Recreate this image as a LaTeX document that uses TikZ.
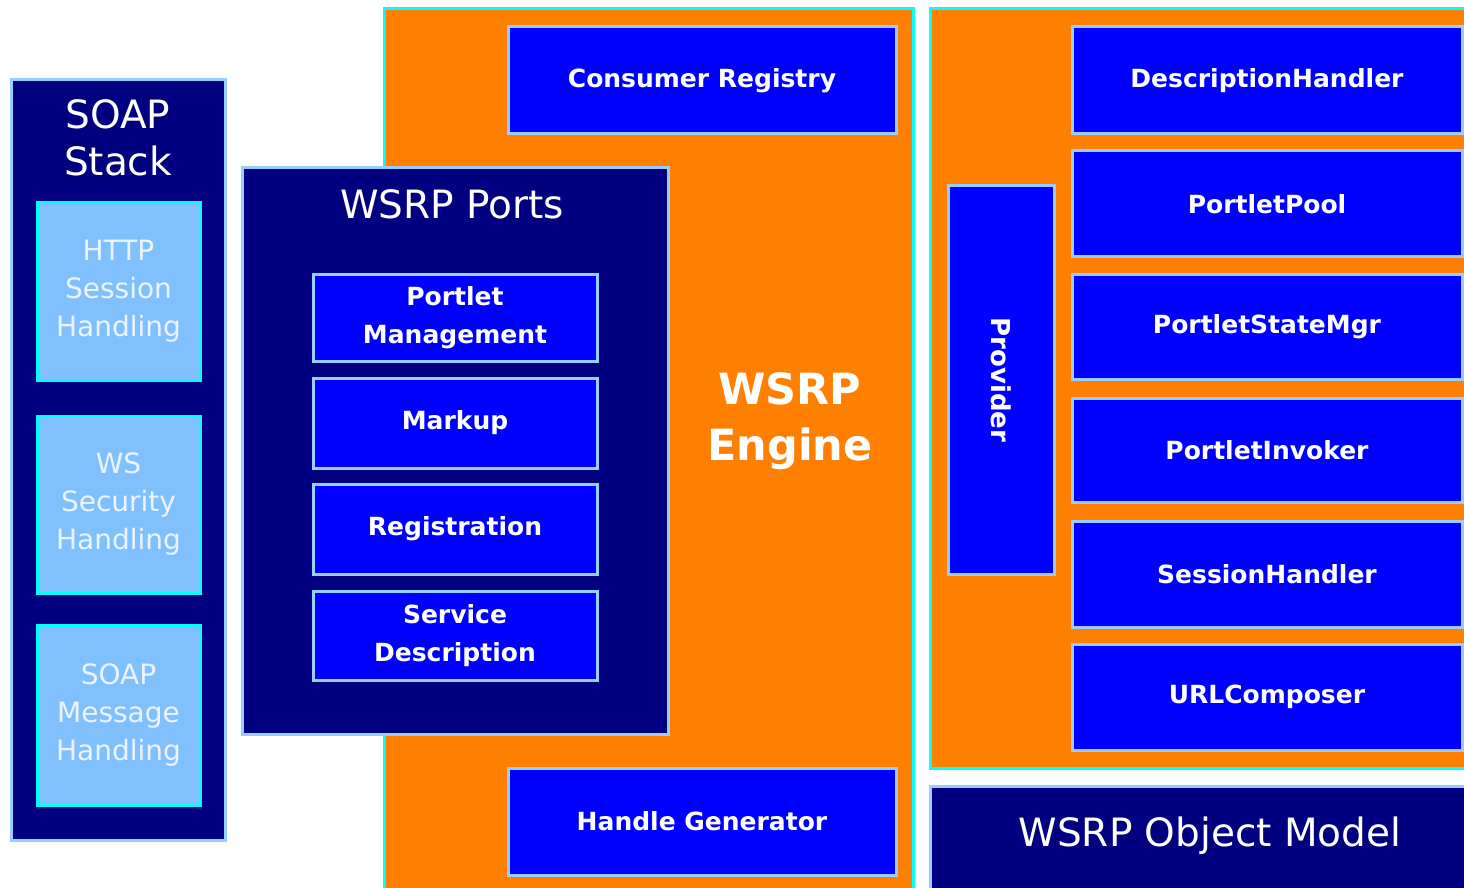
\documentclass[tikz,border=0pt]{standalone}
\usepackage{fontspec}
\setmainfont{DejaVu Sans}
\usetikzlibrary{fit}
\definecolor{engine}{HTML}{FF8000}
\definecolor{rim}{HTML}{00FFFF}
\definecolor{deep}{HTML}{000080}
\definecolor{vivid}{HTML}{0000FF}
\definecolor{edge}{HTML}{99CCFF}
\definecolor{pale}{HTML}{80C0FF}
\definecolor{paletext}{HTML}{EEF4FF}
\tikzset{
  x=0.5pt, y=-0.5pt,
  area/.style={inner sep=0pt, outer sep=0pt, line width=1.5pt},
  orangearea/.style={area, fill=engine, draw=rim},
  deeparea/.style={area, fill=deep, draw=edge},
  bluebox/.style={area, fill=vivid, draw=edge},
  palebox/.style={area, fill=pale, draw=rim},
  bluetext/.style={text=white, align=center, inner sep=0pt,
    font=\fontsize{12.5}{19}\selectfont\bfseries},
  paletxt/.style={text=paletext, align=center, inner sep=0pt,
    font=\fontsize{14}{19}\selectfont},
  title/.style={text=white, align=center, inner sep=0pt,
    font=\fontsize{19.5}{23.5}\selectfont},
}
% box with a centred label: name, corner, corner, style, text
\newcommand\labelledbox[5]{%
  \node[#4, fit={#2#3}] (#1) {};
  \node[#5] (#1-text) at (#1.center)}
\begin{document}
\begin{tikzpicture}
\useasboundingbox (0,0) rectangle (1464,888);
\fill[white] (0,0) rectangle (1464,888);

% SOAP stack column
\node[deeparea, fit={(11,80)(225,840)}] (soap) {};
\node[title] (soaptitle) at (118,138) {SOAP\\Stack};
\labelledbox{http}{(37,203)}{(200,380)}{palebox}{paletxt}{HTTP\\Session\\Handling};
\labelledbox{wssec}{(37,416)}{(200,593)}{palebox}{paletxt}{WS\\Security\\Handling};
\labelledbox{soapmsg}{(37,625)}{(200,805)}{palebox}{paletxt}{SOAP\\Message\\Handling};

% WSRP engine (runs off the bottom edge)
\begin{scope}
\clip (0,0) rectangle (1464,888);
\node[orangearea, fit={(384,9)(913,900)}] (engine) {};
\end{scope}
\node[text=white, align=center, inner sep=0pt,
  font=\fontsize{21.5}{28}\selectfont\bfseries] (enginetitle) at (790,421) {WSRP\\Engine};
\labelledbox{registry}{(508,27)}{(896,134)}{bluebox}{bluetext}{Consumer Registry};
\labelledbox{handle}{(508,768)}{(896,875)}{bluebox}{bluetext}{Handle Generator};

% WSRP ports
\node[deeparea, fit={(242,168)(668,734)}] (ports) {};
\node[title] (portstitle) at (452,204) {WSRP Ports};
\labelledbox{mgmt}{(313,275)}{(597,361)}{bluebox}{bluetext}{Portlet\\Management};
\labelledbox{markup}{(313,378)}{(597,468)}{bluebox}{bluetext}{Markup};
\labelledbox{registration}{(313,484)}{(597,574)}{bluebox}{bluetext}{Registration};
\labelledbox{servdesc}{(313,591)}{(597,680)}{bluebox}{bluetext}{Service\\Description};

% Provider side (runs off the right edge)
\begin{scope}
\clip (0,0) rectangle (1464,888);
\node[orangearea, fit={(930,9)(1480,768)}] (provside) {};
\node[deeparea, fit={(930,786)(1480,900)}] (objmodel) {};
\end{scope}
\node[title] (objtitle) at (1210,836) {WSRP Object Model};
\labelledbox{provider}{(948,186)}{(1054,574)}{bluebox}{bluetext, rotate=-90, font=\fontsize{13}{16}\selectfont\bfseries}{Provider};
\labelledbox{deschandler}{(1072,27)}{(1462,134)}{bluebox}{bluetext}{DescriptionHandler};
\labelledbox{pool}{(1072,151)}{(1462,257)}{bluebox}{bluetext}{PortletPool};
\labelledbox{statemgr}{(1072,275)}{(1462,379)}{bluebox}{bluetext}{PortletStateMgr};
\labelledbox{invoker}{(1072,398)}{(1462,502)}{bluebox}{bluetext}{PortletInvoker};
\labelledbox{session}{(1072,521)}{(1462,627)}{bluebox}{bluetext}{SessionHandler};
\labelledbox{urlcomp}{(1072,644)}{(1462,750)}{bluebox}{bluetext}{URLComposer};
\end{tikzpicture}
\end{document}
